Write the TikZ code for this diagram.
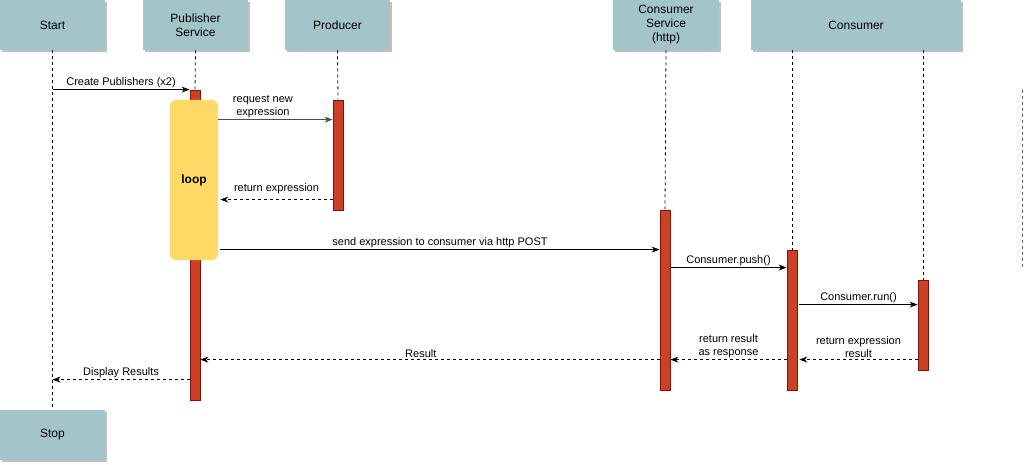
\documentclass[tikz,border=0pt]{standalone}
\usepackage{fontspec}
\setmainfont{Liberation Sans}
\usetikzlibrary{arrows.meta,shadows}
\definecolor{headfill}{RGB}{163,196,200}
\definecolor{barfill}{RGB}{204,65,37}
\definecolor{barline}{RGB}{125,20,10}
\definecolor{loopfill}{RGB}{255,217,102}
\tikzset{
  head/.style={fill=headfill, minimum width=105pt, minimum height=50pt, align=center,
    font=\fontsize{12}{14}\selectfont, inner sep=0pt,
    drop shadow={shadow xshift=2pt, shadow yshift=-2pt, fill=black!25, opacity=1}},
  bar/.style={draw=barline, fill=barfill, minimum width=10pt, inner sep=0pt},
  life/.style={dash pattern=on 3pt off 3pt},
  msg/.style={-{Stealth[length=8pt,width=6pt]}},
  ret/.style={msg, dash pattern=on 3pt off 3pt},
  lbl/.style={font=\fontsize{11}{13}\selectfont, align=center, inner sep=1.5pt}
}
\begin{document}
\begin{tikzpicture}[x=1pt, y=-1pt, line width=0.8pt]
  \useasboundingbox (0,0) rectangle (1025,465);
  % Header boxes
  \node[head] (start) at (52.5,25) {Start};
  \node[head] (pub) at (195.5,25) {Publisher\\Service};
  \node[head] (prod) at (337.5,25) {Producer};
  \node[head, minimum width=106pt] (cs) at (666,25) {Consumer\\Service\\(http)};
  \node[head, minimum width=210pt] (consumer) at (856,25) {Consumer};
  \node[head] (stop) at (52.5,435) {Stop};

  % Activation bars
  \node[bar, minimum height=310pt] (pubbar) at (195,245) {};
  \node[bar, minimum height=110pt] (prodbar) at (338,155) {};
  \node[bar, minimum height=180pt] (csbar) at (665,300) {};
  \node[bar, minimum height=140pt] (cbar) at (792,320) {};
  \node[bar, minimum height=90pt] (runbar) at (923,325) {};

  % Loop box
  \node[fill=loopfill, rounded corners=6pt, minimum width=48pt, minimum height=160pt,
    font=\fontsize{12}{14}\selectfont\bfseries] (loop) at (194,180) {loop};

  % Lifelines
  \draw[life] (start.south) -- (stop.north);
  \draw[life] (pub.south) -- (pubbar.north);
  \draw[life] (prod.south) -- (prodbar.north);
  \draw[life] (cs.south) -- (csbar.north);
  \draw[life] (cbar.north |- consumer.south) -- (cbar.north);
  \draw[life] (runbar.north |- consumer.south) -- (runbar.north);
  \draw[life, black!60] (1022,90) -- (1022,267); % stray lifeline at the edge

  % Messages
  \draw[msg] (start.south |- pubbar.north) -- (pubbar.north west)
    node[lbl, midway, above] {Create Publishers (x2)};
  \draw[msg, black!70] ([yshift=-20pt]loop.north east) -- ([yshift=-20pt]prodbar.north west)
    node[lbl, pos=0.39, above, text=black] {request new\\expression};
  \draw[ret] ([yshift=-100pt]prodbar.north west) -- ([yshift=-100pt,xshift=2pt]loop.north east)
    node[lbl, midway, above, yshift=4pt] {return expression};
  \draw[msg] ([yshift=-150pt,xshift=2pt]loop.north east) -- ([yshift=-40pt]csbar.north west)
    node[lbl, midway, above] {send expression to consumer via http POST};
  \draw[msg] ([yshift=-58pt]csbar.north east) -- ([yshift=-18pt]cbar.north west)
    node[lbl, midway, above] {Consumer.push()};
  \draw[msg] ([yshift=-55pt,xshift=2pt]cbar.north east) -- ([yshift=-25pt]runbar.north west)
    node[lbl, midway, above] {Consumer.run()};
  \draw[ret] ([yshift=-80pt]runbar.north west) -- ([yshift=-110pt,xshift=2pt]cbar.north east)
    node[lbl, midway, above] {return expression\\result};
  \draw[ret] ([yshift=-110pt]cbar.north west) -- ([yshift=-150pt]csbar.north east)
    node[lbl, midway, above] {return result\\as response};
  \draw[ret] ([yshift=-150pt]csbar.north west) -- ([yshift=-270pt]pubbar.north east)
    node[lbl, pos=0.52, above] {Result};
  \coordinate (disp) at ([yshift=-290pt]pubbar.north west);
  \draw[ret] (disp) -- (start.south |- disp)
    node[lbl, midway, above] {Display Results};
\end{tikzpicture}
\end{document}
